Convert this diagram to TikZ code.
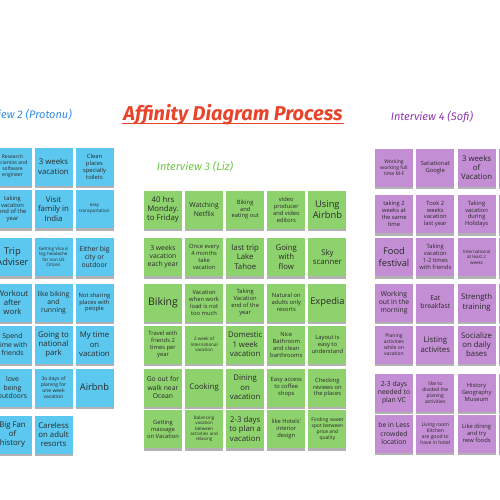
\documentclass[tikz,border=0pt]{standalone}
\usepackage{fontspec}
\newfontfamily\cardfont{Open Sans}
\newfontfamily\handfont{Fira Sans}
\usetikzlibrary{shadows}
\definecolor{noteblue}{RGB}{92,200,240}
\definecolor{notegreen}{RGB}{142,210,110}
\definecolor{notepurple}{RGB}{196,142,212}
\definecolor{notetext}{RGB}{40,40,40}
\definecolor{titlered}{RGB}{232,68,44}
\definecolor{inkblue}{RGB}{50,140,220}
\definecolor{inkgreen}{RGB}{110,200,70}
\definecolor{inkpurple}{RGB}{145,55,175}
\tikzset{
  note/.style={minimum width=38pt, minimum height=38pt, inner sep=0.5pt, align=center, text=notetext,
    drop shadow={shadow xshift=0pt, shadow yshift=-2.5pt, opacity=0.3, fill=black}},
  heading/.style={font=\handfont\itshape\fontsize{11}{13}\selectfont, inner sep=1pt}
}

\begin{document}
\begin{tikzpicture}[x=1pt, y=-1pt]
  \useasboundingbox (0,0) rectangle (500,500);
  \clip (0,0) rectangle (500,500);

  \node[font=\handfont\bfseries\itshape\fontsize{20}{22}\selectfont, text=titlered, anchor=base, inner sep=1pt] (title) at (233,121) {Affinity Diagram Process};
  \draw[titlered, line width=1.2pt] ([yshift=-2.5pt]title.base west) -- ([yshift=-2.5pt]title.base east);

  \node[heading, text=inkblue, anchor=base east] (head2) at (73,118) {Interview 2 (Protonu)};
  \node[heading, text=inkgreen] (head3) at (195,167) {Interview 3 (Liz)};
  \node[heading, text=inkpurple] (head4) at (432,117) {Interview 4 (Sofi)};

  % Interview 2
  \foreach \row/\col/\fs/\txt in {
    0/1/5.0/Research\\Scientist and\\software\\engineer, 0/2/7.8/3 weeks\\vacation, 0/3/5.8/Clean\\places\\specially\\toilets,
    1/1/5.8/taking\\vacation\\end of the\\year, 1/2/7.8/Visit\\family in\\India, 1/3/4.5/easy\\transportation,
    2/1/9.3/Trip\\Adviser, 2/2/4.5/Getting Visa is\\big headache\\for non US\\Citizen, 2/3/6.8/Either big\\city or\\outdoor,
    3/1/7.8/Workout\\after\\work, 3/2/6.8/like biking\\and\\running, 3/3/5.8/Not sharing\\places with\\people,
    4/1/6.8/Spend\\time with\\friends, 4/2/7.8/Going to\\national\\park, 4/3/7.8/My time\\on\\vacation,
    5/1/6.8/love\\being\\outdoors, 5/2/5.0/3o days of\\planing for\\one week\\vacation, 5/3/9.3/Airbnb,
    6/1/7.8/Big Fan\\of\\history, 6/2/7.8/Careless\\on adult\\resorts}
  {
    \pgfmathsetmacro\yy{{166.5,209,257,302.5,344.5,387.5,434.5}[\row]}
    \pgfmathsetmacro\lead{1.2*\fs}
    \node[note, fill=noteblue, font=\cardfont\fontsize{\fs}{\lead}\selectfont] (p2-\row-\col) at ({12.5+41*(\col-1)}, \yy) {\txt};
  }

  % Interview 3
  \foreach \row/\col/\fs/\txt in {
    0/1/7.8/40 hrs\\Monday.\\to Friday, 0/2/6.8/Watching\\Netflix, 0/3/5.8/Biking\\and\\eating out, 0/4/5.8/video\\producer\\and video\\editors, 0/5/9.3/Using\\Airbnb,
    1/1/6.8/3 weeks\\vacation\\each year, 1/2/5.8/Once every\\4 months\\take\\vacation, 1/3/7.8/last trip\\Lake\\Tahoe, 1/4/7.8/Going\\with\\flow, 1/5/7.8/Sky\\scanner,
    2/1/10.5/Biking, 2/2/5.8/Vacation\\when work\\load is not\\too much, 2/3/5.8/Taking\\Vacation\\end of the\\year, 2/4/5.8/Natural on\\adults only\\resorts, 2/5/9.3/Expedia,
    3/1/5.8/Travel with\\friends 2\\times per\\year, 3/2/4.5/2 week of\\International\\vacation, 3/3/7.8/Domestic\\1 week\\vacation, 3/4/5.8/Nice\\Bathroom\\and clean\\barthrooms, 3/5/5.8/Layout is\\easy to\\understand,
    4/1/6.8/Go out for\\walk near\\Ocean, 4/2/7.8/Cooking, 4/3/7.8/Dining\\on\\vacation, 4/4/5.8/Easy access\\to coffee\\shops, 4/5/5.8/Checking\\reviews on\\the places,
    5/1/5.8/Getting\\massage\\on Vacation, 5/2/4.5/Balancing\\vacation\\between\\activities and\\relaxing, 5/3/7.8/2-3 days\\to plan a\\vacation, 5/4/5.8/like Hotels'\\interior\\design, 5/5/5.0/Finding sweet\\spot between\\price and\\quality}
  {
    \pgfmathsetmacro\yy{{209.5,257,302.5,344.5,387.5,429}[\row]}
    \pgfmathsetmacro\lead{1.2*\fs}
    \node[note, fill=notegreen, font=\cardfont\fontsize{\fs}{\lead}\selectfont] (p3-\row-\col) at ({163+41.1*(\col-1)}, \yy) {\txt};
  }

  % Interview 4
  \foreach \row/\col/\fs/\txt in {
    0/1/5.0/Working\\working full\\time M-F, 0/2/5.8/Satiationat\\Google, 0/3/7.8/3 weeks\\of\\Vacation,
    1/1/5.8/taking 2\\weeks at\\the same\\time, 1/2/5.8/Took 2\\weeks\\vacation\\last year, 1/3/5.8/Taking\\vacation\\during\\Holidays,
    2/1/9.3/Food\\festival, 2/2/5.8/Taking\\vacation\\1-2 times\\with friends, 2/3/4.5/International\\at least 2\\weeks,
    3/1/6.8/Working\\out in the\\morning, 3/2/6.8/Eat\\breakfast, 3/3/7.8/Strength\\training,
    4/1/5.0/Planing\\activities\\while on\\vacation, 4/2/7.8/Listing\\activites, 4/3/7.8/Socialize\\on daily\\bases,
    5/1/6.8/2-3 days\\needed to\\plan VC, 5/2/5.0/like to\\divided the\\planing\\activities, 5/3/5.8/History\\Geography\\Museum,
    6/1/6.8/be in Less\\crowded\\location, 6/2/5.0/Living room\\Kitchen\\are good to\\have in hotel, 6/3/5.8/Like dining\\and try\\new foods}
  {
    \pgfmathsetmacro\yy{{167.5,214,257,302.5,344.5,392.5,433.5}[\row]}
    \pgfmathsetmacro\lead{1.2*\fs}
    \node[note, fill=notepurple, font=\cardfont\fontsize{\fs}{\lead}\selectfont] (p4-\row-\col) at ({394+41.3*(\col-1)}, \yy) {\txt};
  }
  \foreach \row in {0,...,6}
  {
    \pgfmathsetmacro\yy{{167.5,214,257,302.5,344.5,392.5,433.5}[\row]}
    \node[note, fill=notepurple] (p4-\row-4) at (518, \yy) {};
  }
\end{tikzpicture}
\end{document}
